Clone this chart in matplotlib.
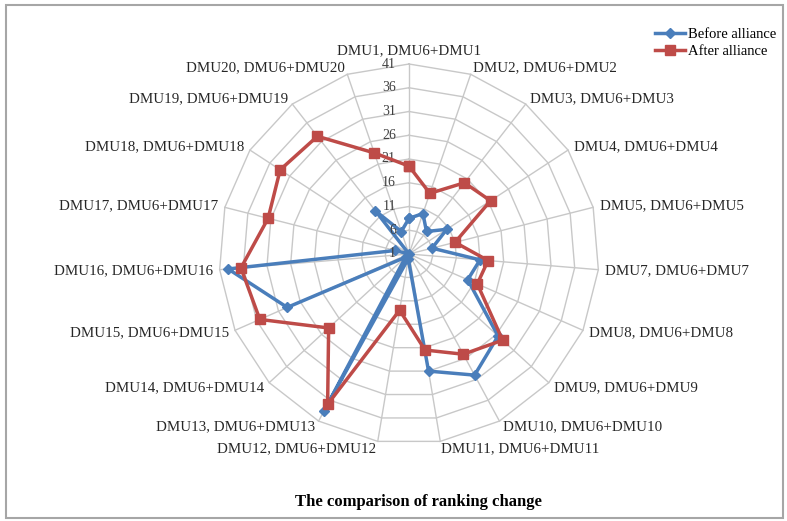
import matplotlib.pyplot as plt
import numpy as np
from matplotlib.patches import Rectangle

plt.rcParams['font.family'] = ['Liberation Serif', 'DejaVu Serif']

dmus = ['1', '2', '3', '4', '5', '7', '8', '9', '10', '11',
        '12', '13', '14', '15', '16', '17', '18', '19', '20']
categories = ['DMU%s, DMU6+DMU%s' % (d, d) for d in dmus]

before = [8.5, 10, 7, 10.5, 6, 16, 14.5, 26.5, 30, 26,
          2, 38.5, 2, 29, 39.2, 4, 1, 12.5, 6]
after = [19.5, 14.5, 20, 21.5, 11, 17.7, 16.7, 27.8, 25, 21.5,
         13, 37, 24, 35.3, 36.5, 31.6, 33.4, 32.4, 23.5]

ring_values = [1, 6, 11, 16, 21, 26, 31, 36, 41]

fig = plt.figure(figsize=(7.87, 5.21), dpi=100)
ax = fig.add_axes([0.2783, 0.1478, 0.4828, 0.7294], projection='polar')
ax.set_theta_zero_location('N')
ax.set_theta_direction(-1)

n = len(categories)
theta = np.arange(n) * 2 * np.pi / n
theta_c = np.append(theta, theta[0])

grid_col = '#C8C8C8'
# polygon rings
for r in ring_values[1:]:
    ax.plot(theta_c, [r] * (n + 1), color=grid_col, lw=1, zorder=1, clip_on=False)
# spokes
for t in theta:
    ax.plot([t, t], [ring_values[0], ring_values[-1]], color=grid_col, lw=1,
            zorder=1, clip_on=False)

ax.plot(theta_c, np.append(before, before[0]), color='#4A7EBB', lw=2.5,
        marker='D', markersize=5, label='Before alliance', zorder=3, clip_on=False)
ax.plot(theta_c, np.append(after, after[0]), color='#BE4B48', lw=2.5,
        marker='s', markersize=7.5, label='After alliance', zorder=4, clip_on=False)

ax.set_ylim(ring_values[0], ring_values[-1])
ax.set_xticks([])
ax.set_yticks([])
ax.grid(False)
ax.spines['polar'].set_visible(False)
ax.patch.set_alpha(0)

# radial value labels
for r in ring_values:
    ax.annotate(str(r), xy=(0, r), xytext=(-9.5, 0), textcoords='offset points',
                ha='right', va='center', fontsize=10, color='#404040')

# category labels
off = 5.0
for t, lab in zip(theta, categories):
    s, c = np.sin(t), np.cos(t)
    if s > 0.05:
        ha = 'left'
    elif s < -0.05:
        ha = 'right'
    else:
        ha = 'center'
    va = 'bottom' if abs(s) < 0.05 else 'center'
    ax.annotate(lab, xy=(t, ring_values[-1]), xytext=(off * s, off * c),
                textcoords='offset points', ha=ha, va=va, fontsize=10.8,
                color='#262626', annotation_clip=False)

fig.legend(loc='upper left', bbox_to_anchor=(0.832, 0.947), frameon=False,
           fontsize=10.5, handlelength=2.1, handletextpad=0.15,
           labelspacing=0.3, borderpad=0, borderaxespad=0)

fig.text(0.532, 1 - 502 / 521, 'The comparison of ranking change',
         ha='center', va='center', fontsize=12, fontweight='bold')

fig.patches.append(Rectangle((6 / 787, 3 / 521), 777 / 787, 513 / 521,
                             transform=fig.transFigure, fill=False,
                             edgecolor='#A6A6A6', lw=1.5))

fig.savefig('out.png', dpi=100)
